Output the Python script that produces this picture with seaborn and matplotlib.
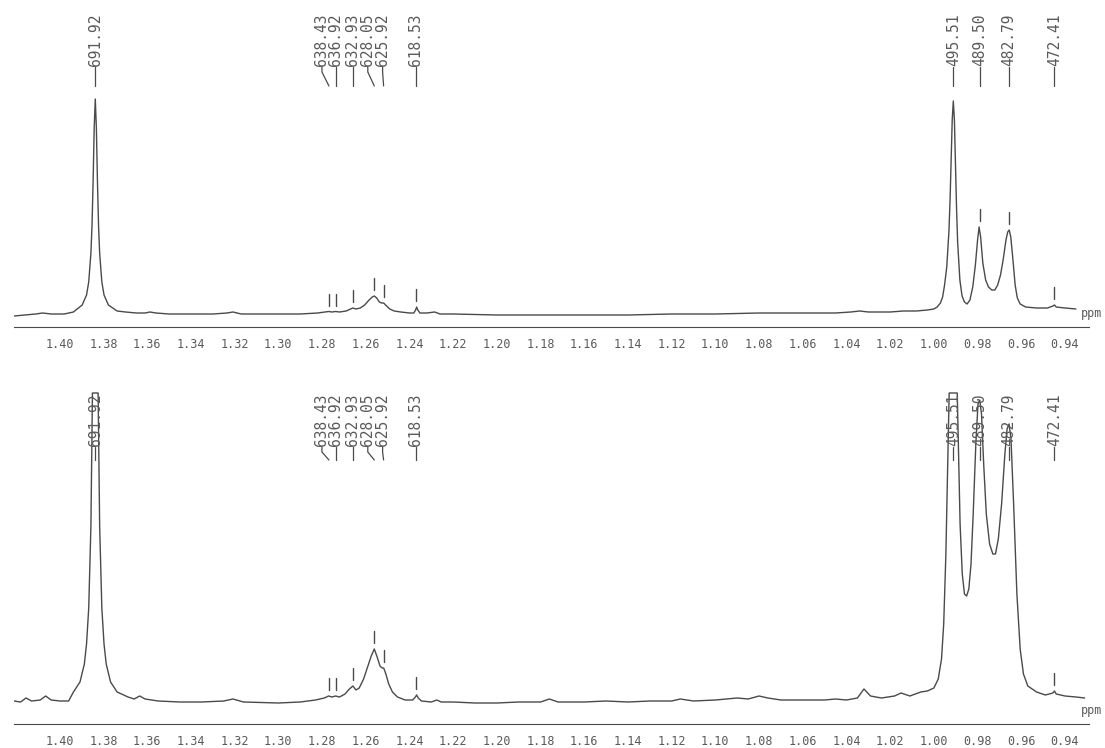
import numpy as np
import pandas as pd
import matplotlib
matplotlib.use("Agg")
import matplotlib.pyplot as plt
from matplotlib.ticker import MultipleLocator, FuncFormatter
import seaborn as sns

# ---------------- data ----------------
# traced spectrum, upper trace: chemical shift (ppm) and intensity above baseline
top_ppm = [1.421, 1.416, 1.411, 1.408, 1.404, 1.398, 1.3938, 1.3898, 1.3878, 1.3868,
           1.3858, 1.3853, 1.3848, 1.3843, 1.3838, 1.3833, 1.3828, 1.3823, 1.3818, 1.3808,
           1.3798, 1.3778, 1.3738, 1.370, 1.365, 1.361, 1.3588, 1.356, 1.35, 1.34,
           1.33, 1.3235, 1.3208, 1.317, 1.30, 1.29, 1.282, 1.2785, 1.2770, 1.2755,
           1.2738, 1.2720, 1.2690, 1.2670, 1.2659, 1.2645, 1.2625, 1.2605, 1.2585, 1.2570,
           1.2561, 1.2550, 1.2538, 1.2528, 1.2518, 1.2505, 1.2490, 1.2470, 1.2440, 1.2400,
           1.2380, 1.2372, 1.2367, 1.2362, 1.2352, 1.2320, 1.2285, 1.2260, 1.22, 1.20,
           1.18, 1.16, 1.14, 1.12, 1.10, 1.08, 1.06, 1.045, 1.038, 1.034,
           1.030, 1.02, 1.014, 1.008, 1.003, 1.000, 0.9985, 0.9970, 0.9960, 0.9951,
           0.9941, 0.9931, 0.9926, 0.9921, 0.9916, 0.9911, 0.9906, 0.9901, 0.9896, 0.9891,
           0.9881, 0.9871, 0.9860, 0.9848, 0.9835, 0.9822, 0.9810, 0.9800, 0.9793, 0.9786,
           0.9776, 0.9763, 0.9750, 0.9735, 0.9721, 0.9708, 0.9695, 0.9683, 0.9670, 0.9662,
           0.9655, 0.9648, 0.9638, 0.9628, 0.9618, 0.9605, 0.958, 0.953, 0.948, 0.9455,
           0.9448, 0.9440, 0.940, 0.935]
top_int = [-1, 0, 1, 2, 1, 1, 3, 10, 20, 33,
           62, 89, 133, 187, 216, 187, 133, 89, 62, 33,
           20, 10, 4, 3, 2, 2, 3, 2, 1, 1,
           1, 2, 3, 1, 1, 1, 2, 3, 3.5, 3,
           3.5, 3, 4, 6, 7, 6, 7, 10, 15, 18,
           19, 17, 13, 12, 12, 9, 6, 4, 3, 2,
           2, 5, 8, 5, 2, 2, 3, 1, 1, 0,
           0, 0, 0, 1, 1, 2, 2, 2, 3, 4,
           3, 3, 4, 4, 5, 6, 8, 12, 18, 30,
           48, 84, 114, 154, 195, 214, 195, 150, 105, 72,
           35, 19, 13, 11, 15, 28, 50, 75, 88, 78,
           52, 35, 28, 25, 25, 30, 40, 55, 75, 83,
           85, 78, 55, 30, 17, 11, 8, 7, 7, 9,
           10, 8, 7, 6]

# traced spectrum, lower trace (expanded vertically, tall peaks run off the top)
bot_ppm = [1.421, 1.418, 1.4155, 1.413, 1.409, 1.4065, 1.404, 1.400, 1.396, 1.3938,
           1.3908, 1.3888, 1.3878, 1.3868, 1.3858, 1.3851, 1.3825, 1.3818, 1.3808, 1.3798,
           1.3788, 1.3768, 1.3738, 1.3688, 1.366, 1.3635, 1.361, 1.355, 1.345, 1.335,
           1.325, 1.3208, 1.316, 1.30, 1.29, 1.283, 1.279, 1.277, 1.2755, 1.2738,
           1.2720, 1.2695, 1.2675, 1.2659, 1.2645, 1.2630, 1.2610, 1.2590, 1.2575, 1.2561,
           1.2548, 1.2535, 1.2525, 1.2518, 1.2508, 1.2495, 1.2478, 1.2455, 1.2420, 1.2385,
           1.2373, 1.2367, 1.2360, 1.2345, 1.2300, 1.2275, 1.2255, 1.22, 1.21, 1.20,
           1.19, 1.18, 1.176, 1.172, 1.16, 1.15, 1.14, 1.13, 1.12, 1.116,
           1.11, 1.10, 1.09, 1.085, 1.08, 1.076, 1.07, 1.06, 1.05, 1.045,
           1.04, 1.035, 1.032, 1.029, 1.024, 1.018, 1.015, 1.011, 1.006, 1.003,
           1.000, 0.998, 0.9965, 0.9955, 0.9945, 0.9935, 0.9930, 0.9893, 0.9888, 0.9880,
           0.9870, 0.9860, 0.9850, 0.9840, 0.9830, 0.9820, 0.9808, 0.9798, 0.9790, 0.9782,
           0.9772, 0.9760, 0.9745, 0.9730, 0.9718, 0.9705, 0.9690, 0.9675, 0.9665, 0.9656,
           0.9647, 0.9635, 0.9620, 0.9605, 0.9590, 0.957, 0.953, 0.949, 0.9455, 0.9448,
           0.944, 0.940, 0.935, 0.931]
bot_int = [3, 2, 6, 3, 4, 8, 4, 3, 3, 12,
           22, 40, 60, 96, 178, 311, 311, 178, 96, 60,
           40, 22, 12, 7, 5, 8, 5, 3, 2, 2,
           3, 5, 2, 1, 2, 4, 6, 8, 7, 8,
           7, 10, 15, 18, 14, 16, 25, 38, 48, 55,
           47, 38, 36, 36, 30, 20, 12, 7, 4, 4,
           7, 9, 6, 3, 2, 4, 2, 2, 1, 1,
           2, 2, 5, 2, 2, 3, 2, 3, 3, 5,
           3, 4, 6, 5, 8, 6, 4, 4, 4, 5,
           4, 6, 15, 8, 6, 8, 11, 8, 12, 13,
           16, 25, 45, 80, 150, 260, 311, 311, 260, 180,
           130, 110, 108, 115, 140, 190, 260, 300, 304, 290,
           240, 190, 160, 150, 150, 165, 200, 250, 275, 280,
           265, 200, 110, 55, 30, 18, 12, 9, 11, 13,
           10, 8, 7, 6]

# peak list (frequencies in Hz, printed above the peaks)
peak_labels = ["691.92", "638.43", "636.92", "632.93", "628.05", "625.92",
               "618.53", "495.51", "489.50", "482.79", "472.41"]
peak_hz = [691.92, 638.43, 636.92, 632.93, 628.05, 625.92,
           618.53, 495.51, 489.50, 482.79, 472.41]
spectrometer_mhz = 500.0
top_peak_int = [216, 3.5, 3.5, 7, 19, 12, 8, 214, 88, 85, 10]
bot_peak_int = [316, 8, 8, 18, 55, 36, 9, 316, 304, 280, 13]

# ---------------- drawing ----------------
sns.set_style("white")
plt.rcParams["font.family"] = ["DejaVu Sans Mono", "DejaVu Sans"]

INK = "#4a4a4a"
TXT = "#5a5a5a"
W, H = 1105, 748
PX_PER_PPM = 1075 / (1.421 - 0.929)

fig = plt.figure(figsize=(W / 100, H / 100), dpi=100)
ax_top = fig.add_axes([14 / W, 1 - 327 / H, 1075 / W, 327 / H])
ax_bot = fig.add_axes([14 / W, 1 - 724 / H, 1075 / W, 334 / H])

peak_ppm = [h / spectrometer_mhz for h in peak_hz]
# label spreading (pixels) where peaks are crowded
label_shift_px = [0, -7, 0, 0, -6.5, -1, 0, 0, 0, 0, 0]


def style_axis(ax, ylim, axis_y_px):
    ax.set_xlim(1.421, 0.929)
    ax.set_ylim(*ylim)
    for s in ["left", "right", "top"]:
        ax.spines[s].set_visible(False)
    ax.spines["bottom"].set_color(INK)
    ax.spines["bottom"].set_linewidth(0.8)
    ax.set_yticks([])
    ax.xaxis.set_major_locator(MultipleLocator(0.02))
    ax.xaxis.set_minor_locator(MultipleLocator(0.01))
    ax.xaxis.set_major_formatter(FuncFormatter(
        lambda v, p: ("%.2f" % v) if (0.935 < v < 1.405) else ""))
    ax.tick_params(axis="x", which="major", direction="inout", length=10,
                   width=1.0, color=INK, labelsize=8.5, labelcolor=TXT, pad=3)
    ax.tick_params(axis="x", which="minor", direction="inout", length=5,
                   width=1.0, color=INK)
    ax.set_xlabel("")
    ax.set_ylabel("")
    fig.text(1102 / W, 1 - (axis_y_px - 3) / H, "ppm", ha="right", va="bottom",
             fontsize=8.5, color=TXT)


def draw_panel(ax, ppm, inten, peak_int, ylim, text_top, conn_len, axis_y_px):
    df = pd.DataFrame({"ppm": ppm, "intensity": inten})
    sns.lineplot(data=df, x="ppm", y="intensity", ax=ax, sort=False,
                 estimator=None, color=INK, linewidth=1.0)
    style_axis(ax, ylim, axis_y_px)
    text_len = 53
    for lab, p, sh, h in zip(peak_labels, peak_ppm, label_shift_px, peak_int):
        lx = p - sh / PX_PER_PPM
        ax.text(lx, text_top, lab, rotation=90, ha="center", va="top",
                fontsize=10.5, color=TXT, clip_on=False)
        yb = text_top - text_len
        ax.plot([lx, lx, p], [yb - 1, yb - 6, yb - conn_len], color=INK, lw=0.9,
                clip_on=False)
        # small tick marker just above the peak maximum
        if h + 20 < yb - conn_len:
            ax.plot([p, p], [h + 6, h + 18], color=INK, lw=1.0)


draw_panel(ax_top, top_ppm, top_int, top_peak_int, (-12, 315), 302, 20, 323)
draw_panel(ax_bot, bot_ppm, bot_int, bot_peak_int, (-20, 314), 311, 14, 720)

fig.savefig("out.png", dpi=100, facecolor="white")
